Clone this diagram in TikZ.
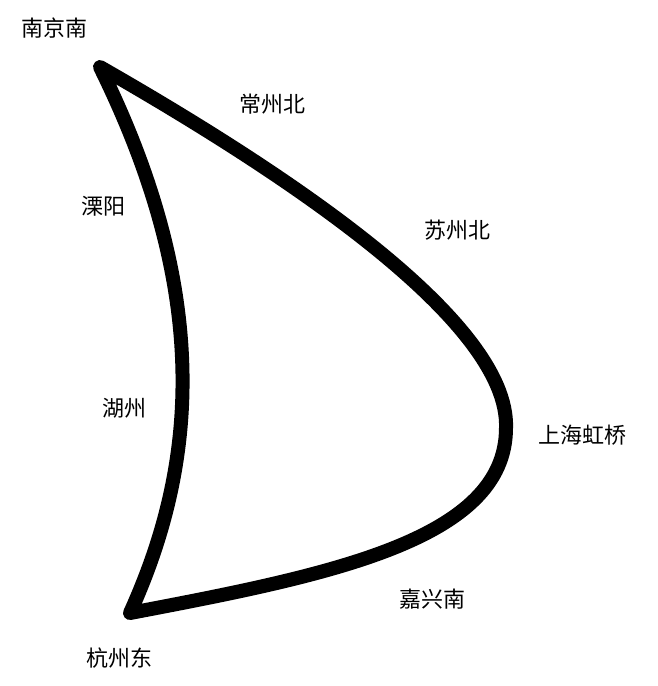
\documentclass[tikz,border=0pt]{standalone}
\usepackage{fontspec}
\setmainfont{Noto Sans CJK SC}
\begin{document}
\begin{tikzpicture}[x=1pt,y=-1pt]
  \useasboundingbox (0,0) rectangle (657,686);

  \begin{scope}[every node/.style={font=\fontsize{22}{26}\selectfont,inner sep=0pt}]
    \node (nanjing)   at (54,28)   {南京南};
    \node (changzhou) at (272,104) {常州北};
    \node (suzhou)    at (457,230) {苏州北};
    \node (shanghai)  at (582,435) {上海虹桥};
    \node (jiaxing)   at (432,599) {嘉兴南};
    \node (hangzhou)  at (119,658) {杭州东};
    \node (huzhou)    at (124,408) {湖州};
    \node (liyang)    at (103,206) {溧阳};
  \end{scope}

  \coordinate (top)    at (100,67);
  \coordinate (right)  at (506,428);
  \coordinate (bottom) at (130,613);

  \draw[line width=14pt,line join=round,line cap=round]
    (top) .. controls (280,170) and (510,320) .. (right)
    .. controls (506,540) and (330,575) .. (bottom)
    .. controls (195,470) and (215,300) .. (top) -- cycle;
\end{tikzpicture}
\end{document}
